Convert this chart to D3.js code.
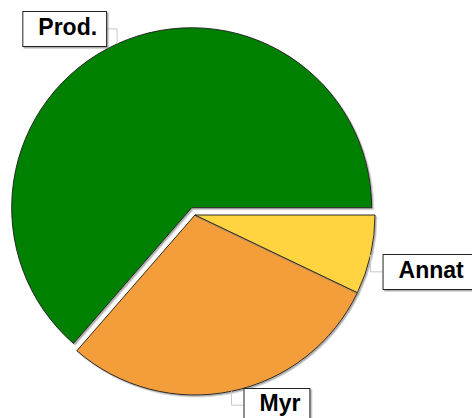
<!DOCTYPE html>
<html>
<head>
<meta charset="utf-8">
<script src="https://cdn.jsdelivr.net/npm/d3@7"></script>
<style>
  html, body { margin: 0; padding: 0; background: #fff; }
  #chart { width: 472px; height: 418px; overflow: hidden; }
</style>
</head>
<body>
<div id="chart"></div>
<script>
// Data
const categories = ['Prod.', 'Myr', 'Annat'];
const shares = [63.6, 29.3, 7.1];
const sliceColors = ['#008000', '#F39E3B', '#FFD43F'];
const exploded = [true, false, false];

// Layout (label placement relative to slice mid-point on the rim)
const labelLayout = {
  'Prod.': { dy: -15, gap: 11, side: 'left' },
  'Myr':   { dy: 14,  gap: 12, side: 'right' },
  'Annat': { dy: 17,  gap: 12, side: 'right' }
};

const width = 472;
const height = 418;
const cx = 195;
const cy = 215;
const radius = 180;
const explode = 8;

const svg = d3.select('#chart')
  .append('svg')
  .attr('width', width)
  .attr('height', height);

// Subtle shadow under slices and label boxes
const defs = svg.append('defs');
const shadow = defs.append('filter')
  .attr('id', 'shadow')
  .attr('x', '-10%').attr('y', '-10%')
  .attr('width', '120%').attr('height', '120%');
shadow.append('feDropShadow')
  .attr('dx', 1.5).attr('dy', 1.5)
  .attr('stdDeviation', 0.6)
  .attr('flood-color', '#777')
  .attr('flood-opacity', 0.6);

const data = categories.map((c, i) => ({ name: c, value: shares[i], color: sliceColors[i], out: exploded[i] }));

// Counter-clockwise from 3 o'clock
const pie = d3.pie()
  .sort(null)
  .value(d => d.value)
  .startAngle(Math.PI / 2)
  .endAngle(Math.PI / 2 - 2 * Math.PI);

const arc = d3.arc().innerRadius(0).outerRadius(radius);
const arcs = pie(data);

const g = svg.append('g').attr('transform', `translate(${cx},${cy})`);

function offset(d) {
  const mid = (d.startAngle + d.endAngle) / 2;
  const k = d.data.out ? explode : 0;
  return [Math.sin(mid) * k, -Math.cos(mid) * k];
}

g.selectAll('path.slice')
  .data(arcs)
  .join('path')
  .attr('class', 'slice')
  .attr('d', arc)
  .attr('transform', d => `translate(${offset(d)})`)
  .attr('fill', d => d.data.color)
  .attr('stroke', '#1a1a1a')
  .attr('stroke-width', 0.9)
  .attr('filter', 'url(#shadow)');

// Labels with leader lines
const labels = svg.append('g').attr('class', 'labels');

arcs.forEach(d => {
  const mid = (d.startAngle + d.endAngle) / 2;
  const [ox, oy] = offset(d);
  const ax = cx + ox + Math.sin(mid) * radius;
  const ay = cy + oy - Math.cos(mid) * radius;
  const lay = labelLayout[d.data.name];
  const by = ay + lay.dy;
  const bx = lay.side === 'left' ? ax - lay.gap : ax + lay.gap;

  labels.append('path')
    .attr('d', `M${ax},${ay}V${by}H${bx}`)
    .attr('fill', 'none')
    .attr('stroke', '#c8c8c8')
    .attr('stroke-width', 1);

  const lg = labels.append('g');
  const box = lg.append('rect');
  const text = lg.append('text')
    .attr('font-family', 'Liberation Sans, Arial, sans-serif')
    .attr('font-weight', 'bold')
    .attr('font-size', 23)
    .attr('fill', '#000')
    .text(d.data.name);

  const tw = text.node().getComputedTextLength();
  const padL = 16, padR = 9, h = 35;
  const w = tw + padL + padR;
  const x0 = lay.side === 'left' ? bx - w : bx;

  box.attr('x', x0 + 0.5)
    .attr('y', Math.round(by - h / 2) + 0.5)
    .attr('width', w)
    .attr('height', h)
    .attr('fill', '#fff')
    .attr('stroke', '#222')
    .attr('stroke-width', 1)
    .attr('filter', 'url(#shadow)');

  text.attr('x', x0 + padL).attr('y', by + 6);
});
</script>
</body>
</html>
